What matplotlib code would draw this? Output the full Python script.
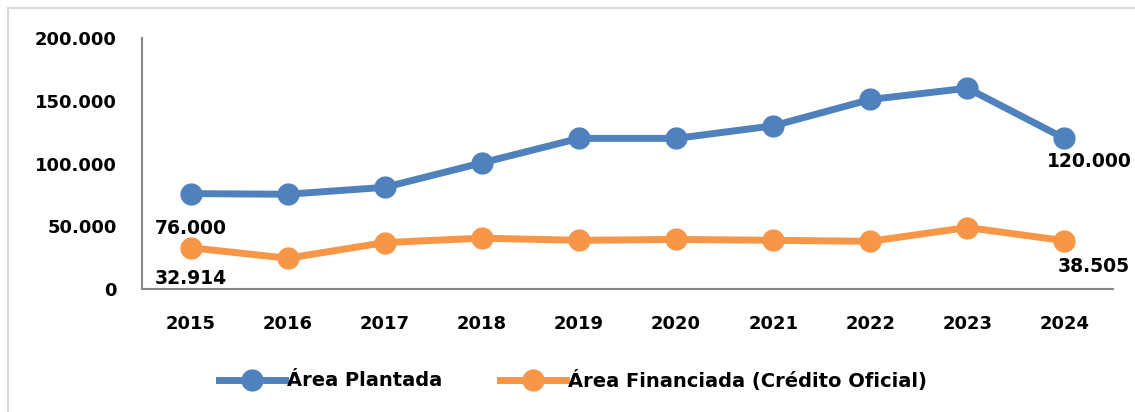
import matplotlib.pyplot as plt
from matplotlib.lines import Line2D

anos = ["2015", "2016", "2017", "2018", "2019", "2020", "2021", "2022", "2023", "2024"]
area_plantada = [76000, 75500, 81000, 100500, 120000, 120000, 130000, 151000, 160000, 120000]
area_financiada = [32914, 24500, 37000, 40500, 38800, 39500, 38800, 38000, 49000, 38505]

azul = "#4f81bd"
laranja = "#f79646"

plt.rcParams['font.family'] = ['DejaVu Sans']
plt.rcParams['font.weight'] = 'bold'

fig = plt.figure(figsize=(11.35, 4.12), dpi=100)
ax = fig.add_axes([142 / 1135, 1 - 289 / 412, (1113 - 142) / 1135, (289 - 38) / 412])

x = range(len(anos))
ax.plot(x, area_plantada, color=azul, lw=5, marker='o', ms=15, label="Área Plantada")
ax.plot(x, area_financiada, color=laranja, lw=5, marker='o', ms=15,
        label="Área Financiada (Crédito Oficial)")

ax.set_xlim(-0.5, len(anos) - 0.5)
ax.set_ylim(0, 200000)
ax.set_yticks([0, 50000, 100000, 150000, 200000])
ax.set_yticklabels(["0", "50.000", "100.000", "150.000", "200.000"])
ax.set_xticks(list(x))
ax.set_xticklabels(anos)
for lbl in ax.get_xticklabels() + ax.get_yticklabels():
    lbl.set_fontsize(13)
    lbl.set_fontweight('bold')
ax.tick_params(axis='y', length=0, pad=18)
ax.tick_params(axis='x', length=0, pad=19)

for s in ["top", "right"]:
    ax.spines[s].set_visible(False)
ax.spines["left"].set_color("#888888")
ax.spines["bottom"].set_color("#888888")
ax.spines["left"].set_linewidth(1.5)
ax.spines["bottom"].set_linewidth(1.5)

def fmt(v):
    return f"{v:,}".replace(",", ".")

rotulo = dict(fontsize=13.5, fontweight='bold', ha='center', va='top')
ax.annotate(fmt(area_plantada[0]), (0, area_plantada[0]), xytext=(0, -18), textcoords='offset points', **rotulo)
ax.annotate(fmt(area_plantada[-1]), (9, area_plantada[-1]), xytext=(18, -10), textcoords='offset points', **rotulo)
ax.annotate(fmt(area_financiada[0]), (0, area_financiada[0]), xytext=(0, -15), textcoords='offset points', **rotulo)
ax.annotate(fmt(area_financiada[-1]), (9, area_financiada[-1]), xytext=(21, -12), textcoords='offset points', **rotulo)

handles = [Line2D([], [], color=azul, lw=5, marker='o', ms=15),
           Line2D([], [], color=laranja, lw=5, marker='o', ms=15)]
fig.legend(handles, ["Área Plantada", "Área Financiada (Crédito Oficial)"],
           loc='center', bbox_to_anchor=(573 / 1135, 1 - 380 / 412), ncol=2, frameon=False,
           prop={'size': 14, 'weight': 'bold'}, handlelength=3.4, handletextpad=0.1, columnspacing=3.0)

# moldura parcial
fig.add_artist(Line2D([8 / 1135, 1], [1 - 8 / 412] * 2, color="#d9d9d9", lw=1.5))
fig.add_artist(Line2D([8 / 1135] * 2, [0, 1 - 8 / 412], color="#d9d9d9", lw=1.5))

fig.savefig("out.png", dpi=100)
